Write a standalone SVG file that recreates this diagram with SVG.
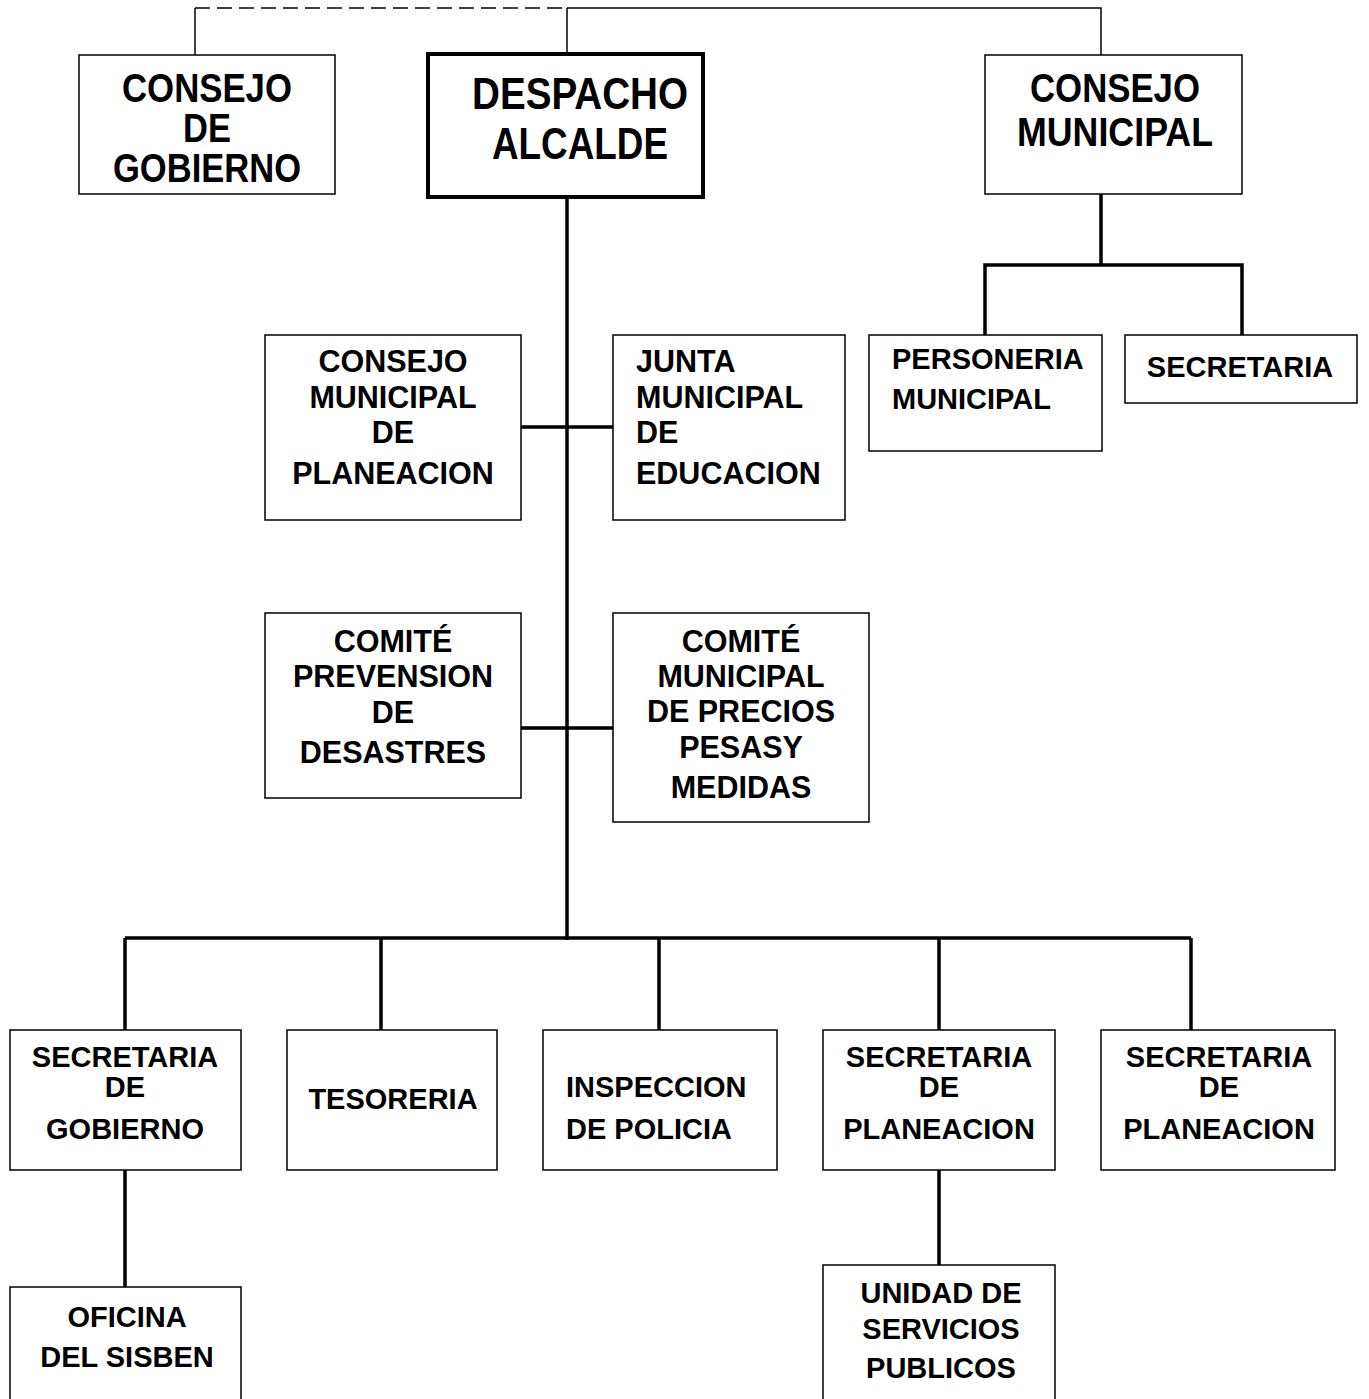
<svg xmlns="http://www.w3.org/2000/svg" width="1369" height="1399" viewBox="0 0 1369 1399">
<style>
rect{fill:#fff;stroke:#000;stroke-width:1.5}
.thick{stroke-width:4}
text{font-family:"Liberation Sans",Arial,sans-serif;font-weight:bold;fill:#000}
.c{text-anchor:middle}
.big{font-size:40px}
.mid{font-size:30.5px}
.sm{font-size:29px}
.conn line,.conn path{stroke:#000;fill:none}
.thin{stroke-width:1.5}
.bold{stroke-width:3.5}
</style>
<g class="conn">
<line class="thin" x1="195" y1="8" x2="567" y2="8" stroke-dasharray="15,7"/>
<path class="thin" d="M567 8 H1101 V55"/>
<line class="thin" x1="195" y1="8" x2="195" y2="55"/>
<line class="thin" x1="567" y1="8" x2="567" y2="54"/>
<line class="bold" x1="567" y1="197" x2="567" y2="940"/>
<line class="bold" x1="1101" y1="194" x2="1101" y2="265"/>
<path class="bold" d="M985 335 V265 H1242 V335"/>
<line class="bold" x1="521" y1="427" x2="613" y2="427"/>
<line class="bold" x1="521" y1="728" x2="613" y2="728"/>
<line class="bold" x1="125" y1="938" x2="1191" y2="938"/>
<line class="bold" x1="125" y1="938" x2="125" y2="1030"/>
<line class="bold" x1="381" y1="938" x2="381" y2="1030"/>
<line class="bold" x1="659" y1="938" x2="659" y2="1030"/>
<line class="bold" x1="939" y1="938" x2="939" y2="1030"/>
<line class="bold" x1="1191" y1="938" x2="1191" y2="1030"/>
<line class="bold" x1="125" y1="1170" x2="125" y2="1287"/>
<line class="bold" x1="939" y1="1170" x2="939" y2="1265"/>
</g>
<g id="consejo-gobierno">
<rect x="79" y="55" width="256" height="139"/>
<text class="c big" x="207" y="102" textLength="170" lengthAdjust="spacingAndGlyphs">CONSEJO</text>
<text class="c big" x="207" y="142" textLength="48" lengthAdjust="spacingAndGlyphs">DE</text>
<text class="c big" x="207" y="182" textLength="188" lengthAdjust="spacingAndGlyphs">GOBIERNO</text>
</g>
<g id="despacho">
<rect class="thick" x="428" y="54" width="275" height="143"/>
<text class="c" style="font-size:44px" x="580" y="109" textLength="216" lengthAdjust="spacingAndGlyphs">DESPACHO</text>
<text class="c" style="font-size:44px" x="580" y="159" textLength="176" lengthAdjust="spacingAndGlyphs">ALCALDE</text>
</g>
<g id="consejo-municipal">
<rect x="985" y="55" width="257" height="139"/>
<text class="c big" x="1115" y="102" textLength="170" lengthAdjust="spacingAndGlyphs">CONSEJO</text>
<text class="c big" x="1115" y="146" textLength="196" lengthAdjust="spacingAndGlyphs">MUNICIPAL</text>
</g>
<g id="personeria">
<rect x="869" y="335" width="233" height="116"/>
<text class="sm" x="892" y="369">PERSONERIA</text>
<text class="sm" x="892" y="409">MUNICIPAL</text>
</g>
<g id="secretaria">
<rect x="1125" y="335" width="232" height="68"/>
<text class="c sm" x="1240" y="377">SECRETARIA</text>
</g>
<g id="consejo-planeacion">
<rect x="265" y="335" width="256" height="185"/>
<text class="c mid" x="393" y="372">CONSEJO</text>
<text class="c mid" x="393" y="408">MUNICIPAL</text>
<text class="c mid" x="393" y="443">DE</text>
<text class="c mid" x="393" y="484">PLANEACION</text>
</g>
<g id="junta-educacion">
<rect x="613" y="335" width="232" height="185"/>
<text class="mid" x="636" y="372">JUNTA</text>
<text class="mid" x="636" y="408">MUNICIPAL</text>
<text class="mid" x="636" y="443">DE</text>
<text class="mid" x="636" y="484">EDUCACION</text>
</g>
<g id="comite-desastres">
<rect x="265" y="613" width="256" height="185"/>
<text class="c mid" x="393" y="652">COMITÉ</text>
<text class="c mid" x="393" y="687">PREVENSION</text>
<text class="c mid" x="393" y="723">DE</text>
<text class="c mid" x="393" y="763">DESASTRES</text>
</g>
<g id="comite-precios">
<rect x="613" y="613" width="256" height="209"/>
<text class="c mid" x="741" y="652">COMITÉ</text>
<text class="c mid" x="741" y="687">MUNICIPAL</text>
<text class="c mid" x="741" y="722">DE PRECIOS</text>
<text class="c mid" x="741" y="758">PESASY</text>
<text class="c mid" x="741" y="798">MEDIDAS</text>
</g>
<g id="sec-gobierno">
<rect x="10" y="1030" width="231" height="140"/>
<text class="c sm" x="125" y="1067">SECRETARIA</text>
<text class="c sm" x="125" y="1097">DE</text>
<text class="c sm" x="125" y="1139">GOBIERNO</text>
</g>
<g id="tesoreria">
<rect x="287" y="1030" width="210" height="140"/>
<text class="c sm" x="393" y="1109">TESORERIA</text>
</g>
<g id="inspeccion">
<rect x="543" y="1030" width="234" height="140"/>
<text class="sm" x="566" y="1097">INSPECCION</text>
<text class="sm" x="566" y="1139">DE POLICIA</text>
</g>
<g id="sec-planeacion-1">
<rect x="823" y="1030" width="232" height="140"/>
<text class="c sm" x="939" y="1067">SECRETARIA</text>
<text class="c sm" x="939" y="1097">DE</text>
<text class="c sm" x="939" y="1139">PLANEACION</text>
</g>
<g id="sec-planeacion-2">
<rect x="1101" y="1030" width="234" height="140"/>
<text class="c sm" x="1219" y="1067">SECRETARIA</text>
<text class="c sm" x="1219" y="1097">DE</text>
<text class="c sm" x="1219" y="1139">PLANEACION</text>
</g>
<g id="sisben">
<rect x="10" y="1287" width="231" height="130"/>
<text class="c sm" x="127" y="1327">OFICINA</text>
<text class="c sm" x="127" y="1367">DEL SISBEN</text>
</g>
<g id="servicios">
<rect x="823" y="1265" width="232" height="150"/>
<text class="c sm" x="941" y="1303">UNIDAD DE</text>
<text class="c sm" x="941" y="1339">SERVICIOS</text>
<text class="c sm" x="941" y="1378">PUBLICOS</text>
</g>
</svg>
